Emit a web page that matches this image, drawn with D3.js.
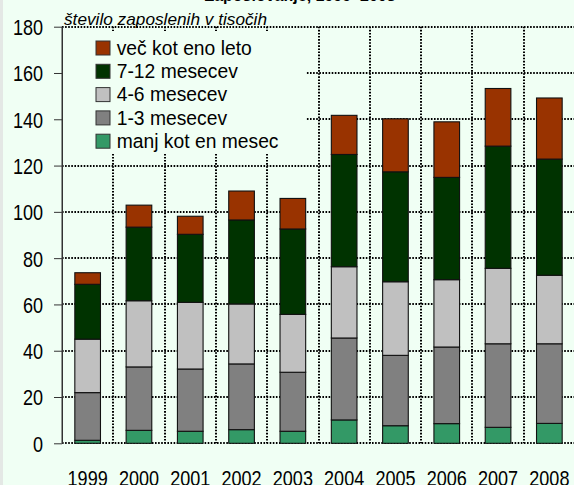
<!DOCTYPE html>
<html>
<head>
<meta charset="utf-8">
<script src="https://cdn.jsdelivr.net/npm/d3@7"></script>
<style>
  html, body { margin: 0; padding: 0; background: #F0FFF4; }
  svg { display: block; }
</style>
</head>
<body>
<script>
// Zaposleni po trajanju zaposlitve (v tisočih), 1999–2008
const years = ["1999", "2000", "2001", "2002", "2003", "2004", "2005", "2006", "2007", "2008"];
const seriesNames = ["manj kot en mesec", "1-3 mesecev", "4-6 mesecev", "7-12 mesecev", "več kot eno leto"];
const lessThanMonth = [1.3, 5.6, 5.2, 5.9, 5.2, 10.1, 7.6, 8.5, 6.9, 8.6];
const months1to3    = [20.6, 27.4, 26.9, 28.4, 25.5, 35.4, 30.4, 33.1, 36.1, 34.4];
const months4to6    = [23.1, 28.6, 28.8, 25.9, 25.0, 30.8, 31.8, 29.1, 32.6, 29.6];
const months7to12   = [23.7, 31.8, 29.4, 36.3, 36.9, 48.5, 47.5, 44.2, 52.8, 50.2];
const overYear      = [5.0, 9.5, 7.8, 12.5, 13.2, 16.9, 22.9, 24.0, 24.9, 26.4];
const yTicks = [0, 20, 40, 60, 80, 100, 120, 140, 160, 180];
const colors = ["#339966", "#808080", "#C0C0C0", "#003300", "#993300"];

const W = 574, H = 485;
const plotLeft = 62, plotRight = 575, plotTop = 26.7, plotBottom = 443.3;
const bg = "#F0FFF4";
const font = "'Liberation Sans', Arial, sans-serif";

const rows = years.map((yr, i) => ({
  year: yr,
  [seriesNames[0]]: lessThanMonth[i],
  [seriesNames[1]]: months1to3[i],
  [seriesNames[2]]: months4to6[i],
  [seriesNames[3]]: months7to12[i],
  [seriesNames[4]]: overYear[i]
}));
const stacked = d3.stack().keys(seriesNames)(rows);

const svg = d3.select("body").append("svg").attr("width", W).attr("height", H);
svg.append("rect").attr("width", W).attr("height", H).attr("fill", bg);
svg.append("rect").attr("width", 3).attr("height", H).attr("fill", "#E4E8E5");

const x = d3.scaleBand().domain(years).range([plotLeft, plotRight]).paddingInner(0.5).paddingOuter(0.25);
const y = d3.scaleLinear().domain([0, 180]).range([plotBottom, plotTop]);
const step = x.step();

// title (mostly above the visible area)
svg.append("text").attr("x", 300).attr("y", 0.5).attr("text-anchor", "middle")
  .attr("font-family", font).attr("font-size", 16).attr("font-weight", "bold")
  .attr("fill", "#000").text("Zaposlovanje, 1999–2008");

// dotted grid
const grid = svg.append("g").attr("stroke", "#000").attr("stroke-width", 2)
  .attr("stroke-dasharray", "1.6,1.5");
grid.selectAll("line.h").data(yTicks).join("line").attr("class", "h")
  .attr("x1", plotLeft).attr("x2", plotRight)
  .attr("y1", d => Math.round(y(d))).attr("y2", d => Math.round(y(d)));
grid.selectAll("line.v").data(years.slice(1)).join("line").attr("class", "v")
  .attr("x1", d => Math.round(x(d) - step * 0.25)).attr("x2", d => Math.round(x(d) - step * 0.25))
  .attr("y1", plotTop).attr("y2", plotBottom);

// stacked bars
svg.append("g").selectAll("g").data(stacked).join("g")
  .attr("fill", (d, i) => colors[i])
  .selectAll("rect").data(d => d).join("rect")
  .attr("x", d => x(d.data.year))
  .attr("width", x.bandwidth())
  .attr("y", d => y(d[1]))
  .attr("height", d => y(d[0]) - y(d[1]))
  .attr("stroke", "#111").attr("stroke-width", 1.1);

// condensed numeric labels
function condense(sel, factor) {
  sel.each(function () {
    const len = this.getComputedTextLength();
    d3.select(this).attr("textLength", len * factor).attr("lengthAdjust", "spacingAndGlyphs");
  });
}

// y axis
const yAxis = svg.append("g").attr("transform", `translate(${plotLeft},0)`)
  .call(d3.axisLeft(y).tickValues(yTicks).tickSize(8).tickPadding(11).tickSizeOuter(0));
yAxis.select(".domain").attr("stroke", "#333");
yAxis.selectAll(".tick line").attr("stroke", "#333");
yAxis.selectAll(".tick text").attr("font-family", font).attr("font-size", 22)
  .attr("fill", "#000").attr("dy", "0.36em").call(condense, 0.82);

// x axis labels
const xAxis = svg.append("g").attr("transform", `translate(0,${plotBottom})`)
  .call(d3.axisBottom(x).tickSize(0).tickPadding(0));
xAxis.select(".domain").remove();
xAxis.selectAll(".tick text").attr("font-family", font).attr("font-size", 22)
  .attr("fill", "#000").attr("dy", null).attr("y", 42.5).call(condense, 0.82);

// unit label
const unit = svg.append("text").attr("x", 64).attr("y", 24.5)
  .attr("font-family", font).attr("font-size", 16.5).attr("font-style", "italic")
  .attr("fill", "#000").text("število zaposlenih v tisočih");
unit.attr("textLength", 203).attr("lengthAdjust", "spacingAndGlyphs");

// legend
const legend = svg.append("g");
legend.append("rect").attr("x", plotLeft + 1).attr("y", 31).attr("width", 243).attr("height", 123)
  .attr("fill", bg);
const legendOrder = seriesNames.slice().reverse();
const li = legend.selectAll("g.item").data(legendOrder).join("g").attr("class", "item")
  .attr("transform", (d, i) => `translate(96,${41 + i * 23.3})`);
li.append("rect").attr("width", 14).attr("height", 14)
  .attr("fill", d => colors[seriesNames.indexOf(d)])
  .attr("stroke", "#333").attr("stroke-width", 1);
li.append("text").attr("x", 20.7).attr("y", 13.8)
  .attr("font-family", font).attr("font-size", 19.3).attr("fill", "#000")
  .text(d => d);

// y axis line over the legend
svg.append("line").attr("x1", plotLeft).attr("x2", plotLeft).attr("y1", plotTop).attr("y2", plotBottom)
  .attr("stroke", "#333").attr("stroke-width", 1);
</script>
</body>
</html>
